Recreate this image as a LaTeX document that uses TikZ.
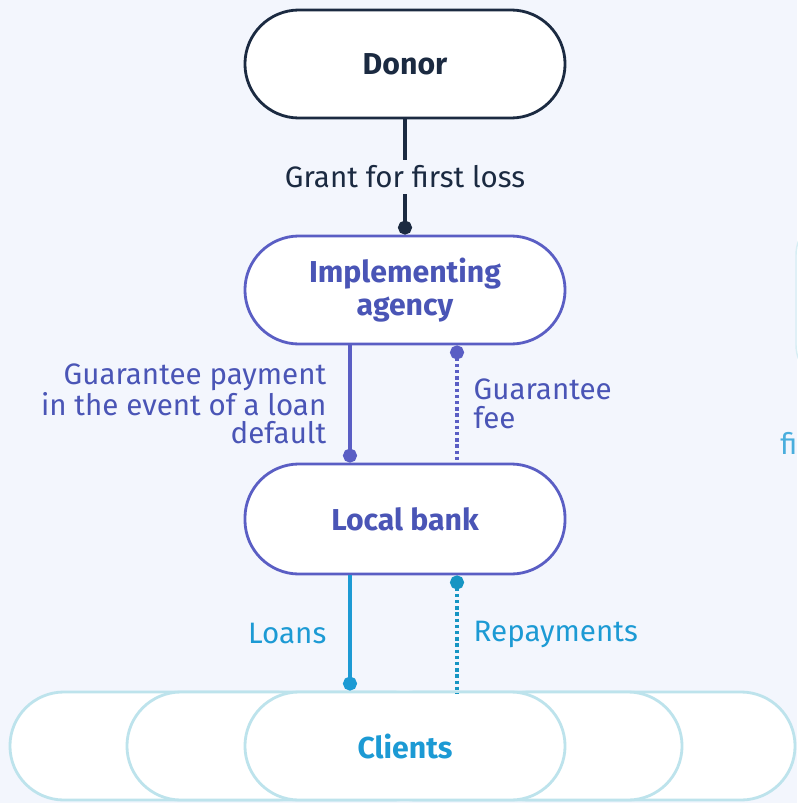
\documentclass[tikz,border=0pt]{standalone}
\usepackage{fontspec}
\setmainfont{Fira Sans}
\usetikzlibrary{positioning,arrows.meta}

\definecolor{bgpale}{HTML}{F3F6FD}
\definecolor{donornavy}{HTML}{1B2A41}
\definecolor{agencyblue}{HTML}{5A5EC4}
\definecolor{agencytext}{HTML}{4A55B6}
\definecolor{clientcyan}{HTML}{1C9AD4}
\definecolor{clientedge}{HTML}{BDE3EC}

\begin{document}
\begin{tikzpicture}[x=0.025cm, y=-0.025cm,
    pill/.style={draw, fill=white, line width=2pt, rounded corners=1.35cm,
        minimum width=8cm, minimum height=2.7cm, font=\fontsize{21.5}{24}\selectfont\bfseries, align=center},
    flow/.style={line width=2.4pt},
    lbl/.style={font=\fontsize{21}{20.5}\selectfont, inner sep=0pt},
    dot/.style={-{Circle[length=0.35cm]}},
    dotstart/.style={{Circle[length=0.35cm]}-}]
    % background
    \fill[bgpale] (0,0) rectangle (797,803);
    \useasboundingbox (0,0) rectangle (797,803);
    % cut off part on the right
    \draw[clientedge!60, line width=1pt, rounded corners=1cm] (796,215) rectangle (900,385);
    \node[lbl, text=clientcyan!80, anchor=west] (cutfi) at (780,443) {fi};
    % donor
    \node[pill, draw=donornavy, text=donornavy] (donor) at (405,64) {Donor};
    % implementing agency
    \node[pill, draw=agencyblue, text=agencytext] (agency) at (405,290) {Implementing\\agency};
    % local bank
    \node[pill, draw=agencyblue, text=agencytext, minimum height=2.75cm] (bank) at (405,519) {Local bank};
    % clients (overlapping pills)
    \node[pill, draw=clientedge] (cl1) at (170,746) {};
    \node[pill, draw=clientedge] (cl2) at (287,746) {};
    \node[pill, draw=clientedge] (cl5) at (635,746) {};
    \node[pill, draw=clientedge] (cl4) at (522,746) {};
    \node[pill, draw=clientedge, text=clientcyan] (clients) at (405,746) {Clients};

    % donor -> agency
    \draw[flow, dot, donornavy] (donor) -- node[lbl, fill=bgpale, inner sep=4pt] (grant) {Grant for first loss} (agency);
    % agency <-> bank
    \draw[flow, dot, agencyblue] ([xshift=-1.375cm]agency.south) -- ([xshift=-1.375cm]bank.north)
        node[lbl, midway, left=0.55cm, align=right, text=agencytext] (gpay) {Guarantee payment\\in the event of a loan\\default};
    \draw[flow, dotstart, agencyblue, dotted] ([xshift=1.3cm]agency.south) -- ([xshift=1.3cm]bank.north)
        node[lbl, midway, right=0.375cm, align=left, text=agencytext] (gfee) {Guarantee\\fee};
    % bank <-> clients
    \draw[flow, dot, clientcyan] ([xshift=-1.375cm]bank.south) -- ([xshift=-1.375cm]clients.north)
        node[lbl, midway, left=0.55cm, text=clientcyan] (loans) {Loans};
    \draw[flow, dotstart, clientcyan!80!teal, dotted] ([xshift=1.3cm]bank.south) -- ([xshift=1.3cm,yshift=-0.07cm]clients.north)
        node[lbl, midway, right=0.375cm, text=clientcyan] (repay) {Repayments};
\end{tikzpicture}
\end{document}
